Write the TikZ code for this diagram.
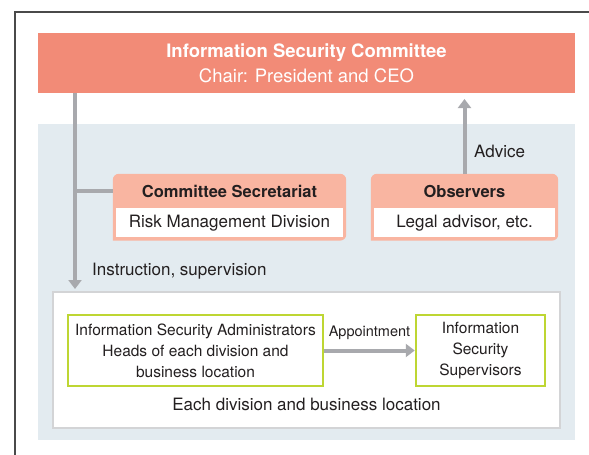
\documentclass[tikz,border=0pt]{standalone}
\usepackage{fontspec}
\setmainfont{TeX Gyre Heros}
\usetikzlibrary{positioning, arrows.meta, calc, backgrounds}
\definecolor{salmon}{HTML}{F28B77}
\definecolor{palesalmon}{HTML}{F9B5A1}
\definecolor{paleblue}{HTML}{E3EBF0}
\definecolor{arrowgray}{HTML}{A8A9AD}
\definecolor{limegreen}{HTML}{BED633}
\definecolor{unitgray}{HTML}{D3D4D6}
\definecolor{framedark}{HTML}{4A4A4A}
\definecolor{inkdark}{HTML}{231F20}

\begin{document}
\begin{tikzpicture}[x=1pt,y=-1pt,
    every node/.style={inner sep=0pt, align=center, text=inkdark, font=\fontsize{17}{21}\selectfont},
    headbar/.style={fill=salmon, text=white, minimum width=537, minimum height=60, font=\fontsize{18.5}{25}\selectfont},
    boxhead/.style={minimum height=34, font=\bfseries\fontsize{16.5}{20}\selectfont},
    boxbody/.style={fill=white, minimum height=29},
    greenbox/.style={draw=limegreen, line width=2.5pt, minimum height=71, font=\fontsize{15.5}{21}\selectfont},
    flow/.style={draw=arrowgray, line width=4pt, -{Triangle[width=13pt,length=9pt]}},
    trunk/.style={draw=arrowgray, line width=4pt}]
    \useasboundingbox (0,0) rectangle (589,455);

    \node[headbar] (committee) at (306.5,63) {\textbf{Information Security Committee}\\Chair: President and CEO};

    \node[boxhead, minimum width=233] (secr) at (229.5,191) {Committee Secretariat};
    \node[boxbody, minimum width=227, below=0pt of secr] (secrdiv) {Risk Management Division};
    \node[boxhead, minimum width=187] (obs) at (464.5,191) {Observers};
    \node[boxbody, minimum width=181, below=0pt of obs] (obsdiv) {Legal advisor, etc.};

    \node[draw=unitgray, line width=2pt, fill=white, minimum width=507, minimum height=136] (unit) at (306.5,360) {};
    \node[greenbox, minimum width=255] (admin) at (195.5,350.5) {Information Security Administrators\\Heads of each division and\\business location};
    \node[greenbox, minimum width=129] (sup) at (480.5,350.5) {Information\\Security\\Supervisors};
    \node (unitlabel) at (306.5,404) {Each division and business location};

    \coordinate (instr) at (75,289);
    \coordinate (advtip) at (464.5,99);
    \node[anchor=west] (instrlabel) at (92,271) {Instruction, supervision};
    \node[anchor=west] (advlabel) at (474,151) {Advice};

    \begin{scope}[on background layer]
        \fill[paleblue] (38,124) rectangle (575,440);
        \fill[palesalmon] ($(secrdiv.south west)+(-3,3)$) [rounded corners=6pt] |- (secr.north) -| ($(secrdiv.south east)+(3,3)$) [sharp corners] -- cycle;
        \fill[palesalmon] ($(obsdiv.south west)+(-3,3)$) [rounded corners=6pt] |- (obs.north) -| ($(obsdiv.south east)+(3,3)$) [sharp corners] -- cycle;
    \end{scope}

    \draw[flow] (committee.south -| instr) -- (instr);
    \draw[trunk] (secr.west) -- (secr.west -| instr);
    \draw[flow] (obs.north) -- (advtip);
    \path (admin) edge[flow] node[midway, yshift=18pt, font=\fontsize{14.5}{17}\selectfont] {Appointment} (sup);

    \draw[framedark, line width=1.2pt] (15,455) -- (15,12) -- (589,12);
\end{tikzpicture}
\end{document}
